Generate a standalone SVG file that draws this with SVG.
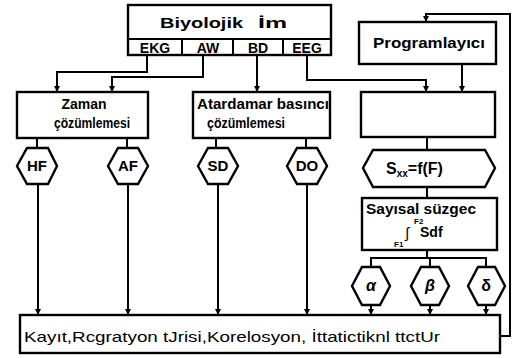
<svg xmlns="http://www.w3.org/2000/svg" width="514" height="358" viewBox="0 0 514 358">
<defs>
<marker id="a" viewBox="0 0 6 6" refX="6" refY="3" markerWidth="6" markerHeight="6" markerUnits="userSpaceOnUse" orient="auto"><path d="M0,0 L6,3 L0,6 z" fill="#000"/></marker>
<style>
.b{fill:#fff;stroke:#000;stroke-width:2.4}
.c{fill:none;stroke:#000;stroke-width:2}
.t{font-family:"Liberation Sans",Arial,sans-serif;font-weight:bold;font-size:14px;fill:#000}
.m{text-anchor:middle}
.h{font-size:15px}
.g{font-size:16px}
.s{font-size:8px}
.k{font-family:"Liberation Sans",Arial,sans-serif;font-size:15px;fill:#000}
</style>
</defs>
<rect width="514" height="358" fill="#fff"/>
<g id="connectors">
<path class="c" d="M147,55 V72 H57 V92" marker-end="url(#a)"/>
<path class="c" d="M203,55 V77 H112 V92" marker-end="url(#a)"/>
<path class="c" d="M257,55 V92" marker-end="url(#a)"/>
<path class="c" d="M307,55 V80 H426 V92" marker-end="url(#a)"/>
<path class="c" d="M462,64 V92" marker-end="url(#a)"/>
<path class="c" d="M500,336 H510 V14 H426 V22" marker-end="url(#a)"/>
<path class="c" d="M37,138 V148 M127,138 V148 M216,138 V148 M306,138 V148"/>
<path class="c" d="M38,184 V315" marker-end="url(#a)"/>
<path class="c" d="M128,184 V315" marker-end="url(#a)"/>
<path class="c" d="M218,184 V315" marker-end="url(#a)"/>
<path class="c" d="M307,184 V315" marker-end="url(#a)"/>
<path class="c" d="M427,137 V150 M427,187 V198"/>
<path class="c" d="M427,250 V258 H371 V267 M430,258 V267 M427,258 H486 V267"/>
<path class="c" d="M371,305 V315" marker-end="url(#a)"/>
<path class="c" d="M430,305 V315" marker-end="url(#a)"/>
<path class="c" d="M486,305 V315" marker-end="url(#a)"/>
</g>
<g id="biyolojik">
<rect class="b" x="128" y="5" width="203" height="50"/>
<path class="c" d="M128,39 H331 M182,39 V55 M233,39 V55 M283,39 V55"/>
<text class="t h" x="160" y="28" textLength="83" lengthAdjust="spacingAndGlyphs">Biyolojik</text>
<text class="t h" x="258" y="28" textLength="29" lengthAdjust="spacingAndGlyphs">İm</text>
<text class="t m" x="155" y="53">EKG</text>
<text class="t m" x="208" y="53">AW</text>
<text class="t m" x="258" y="53">BD</text>
<text class="t m" x="307" y="53">EEG</text>
</g>
<g id="programlayici">
<rect class="b" x="359" y="22" width="137" height="42"/>
<text class="t" x="373" y="48" textLength="112" lengthAdjust="spacingAndGlyphs">Programlayıcı</text>
</g>
<g id="zaman">
<rect class="b" x="17" y="92" width="131" height="46"/>
<text class="t m" x="84" y="109">Zaman</text>
<text class="t m" x="92" y="128" textLength="76" lengthAdjust="spacingAndGlyphs">çözümlemesi</text>
</g>
<g id="atardamar">
<rect class="b" x="193" y="92" width="137" height="46"/>
<text class="t" x="197" y="109" textLength="132" lengthAdjust="spacingAndGlyphs">Atardamar basıncı</text>
<text class="t" x="207" y="128" textLength="78" lengthAdjust="spacingAndGlyphs">çözümlemesi</text>
</g>
<g id="bos">
<rect class="b" x="361" y="92" width="134" height="45"/>
</g>
<g id="hf"><polygon class="b" points="17,166 27,148 48,148 57,166 48,184 27,184"/><text class="t m h" x="37" y="171">HF</text></g>
<g id="af"><polygon class="b" points="108,166 118,148 138,148 148,166 138,184 118,184"/><text class="t m h" x="128" y="171">AF</text></g>
<g id="sd"><polygon class="b" points="198,166 208,148 228,148 238,166 228,184 208,184"/><text class="t m h" x="218" y="171">SD</text></g>
<g id="do"><polygon class="b" points="287,166 297,148 317,148 327,166 317,184 297,184"/><text class="t m h" x="307" y="171">DO</text></g>
<g id="sxx">
<polygon class="b" points="363,168 373,150 485,150 495,168 485,187 373,187"/>
<text class="t g" x="386" y="174">S<tspan style="font-size:10px" dy="3">xx</tspan><tspan dy="-3">=f(F)</tspan></text>
</g>
<g id="sayisal">
<rect class="b" x="362" y="198" width="135" height="52"/>
<text class="t" x="366" y="214" textLength="110" lengthAdjust="spacingAndGlyphs">Sayısal süzgec</text>
<text class="t s" x="414" y="224">F2</text>
<text class="t h" x="405" y="238" style="font-weight:normal">∫</text>
<text class="t" x="420" y="237">Sdf</text>
<text class="t s" x="394" y="247">F1</text>
</g>
<g id="alfa"><polygon class="b" points="352,286 362,267 380,267 390,286 380,305 362,305"/><text class="t m g" x="371" y="291" style="font-style:italic">α</text></g>
<g id="beta"><polygon class="b" points="411,286 421,267 439,267 449,286 439,305 421,305"/><text class="t m g" x="430" y="291" style="font-style:italic">β</text></g>
<g id="delta"><polygon class="b" points="468,286 478,267 495,267 505,286 495,305 478,305"/><text class="t m g" x="486" y="291">δ</text></g>
<g id="kayit">
<rect class="b" x="20" y="315" width="480" height="38"/>
<text class="k" x="24" y="342" textLength="416" lengthAdjust="spacingAndGlyphs">Kayıt,Rcgratyon tJrisi,Korelosyon, İttatictiknl ttctUr</text>
</g>
</svg>
